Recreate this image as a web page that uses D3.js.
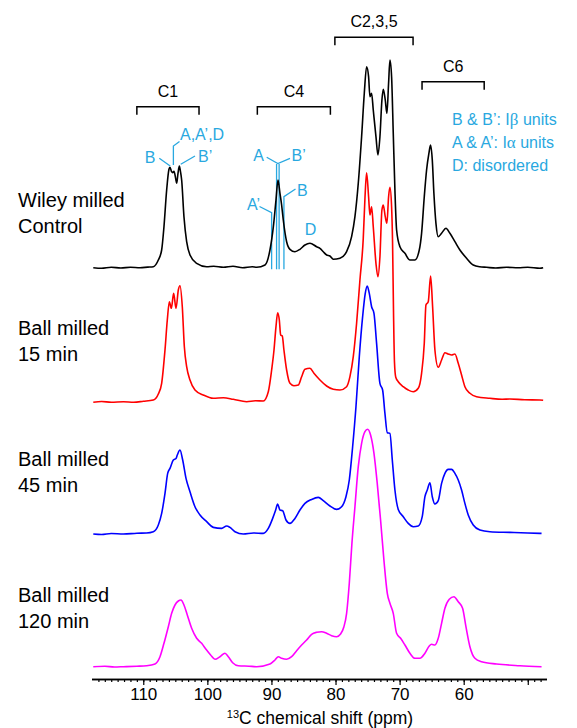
<!DOCTYPE html>
<html><head><meta charset="utf-8">
<script src="https://cdn.jsdelivr.net/npm/d3@7"></script>
<style>body{margin:0;background:#fff}svg{display:block}</style>
</head><body>
<svg id="chart" width="577" height="728"></svg>
<script>
// ---------- DATA (ppm, intensity a.u.) ----------
const wileyControl = [[117.8,0.5],[116.5,0],[115,1],[113.5,0.3],[112,1],[110.5,0.5],[109.3,1.2],[108.43,1.6],[107.65,8.3],[107.13,18.3],[106.77,41.6],[106.35,78.3],[105.99,99],[105.83,101],[105.6,97],[105.41,95.6],[105.21,97],[104.95,90],[104.79,85],[104.58,95],[104.37,102.3],[104.2,97],[104.01,88.3],[103.65,51.6],[103.23,26.6],[102.71,13.3],[101.67,5],[100.11,1.6],[99,2],[97.5,1],[96,2],[94.5,0.5],[93,1.5],[92.3,1],[91.0,3.3],[90.23,18.3],[89.7,41.6],[89.29,68.3],[88.98,88.3],[88.67,75],[88.41,63.3],[88.15,48.3],[87.63,26.6],[87.11,19],[86.33,16.6],[85.55,19],[84.77,23.3],[83.99,25],[82.95,21.6],[82.43,20],[81.91,16.6],[81.39,13.3],[80.87,12.3],[80.35,9],[79.31,10],[78.27,16.6],[77.49,31.6],[76.97,51.6],[76.45,85],[75.93,131.6],[75.51,175],[75.15,201.6],[74.84,191.6],[74.63,171.6],[74.37,175],[74.11,158.3],[73.69,131.6],[73.38,113.3],[73.07,131.6],[72.76,168.3],[72.55,179],[72.24,168.3],[71.98,155],[71.72,185],[71.51,208.3],[71.25,191.6],[70.99,135],[70.73,78],[70.47,38.3],[69.95,21.6],[69.17,15],[68.39,8.3],[67.61,8.3],[66.93,18.3],[66.57,35],[66.15,71.6],[65.79,98.3],[65.43,115],[65.17,123.3],[64.9,108.3],[64.65,75],[64.33,45],[63.97,31.6],[63.45,35],[62.77,40],[62.15,35],[61.37,26.6],[60.59,18.3],[59.55,10],[58.51,3.3],[57.5,1.5],[56.43,1],[55,0.3],[53.31,1],[51.5,0.5],[50,1],[48.11,0],[47.6,0.5]];

const ballMilled15 = [[117.8,0],[116.5,0.8],[115,0],[113.1,0.5],[111.5,0],[110,1],[108.43,2.3],[107.65,8.3],[107.13,19],[106.61,52.3],[106.25,82.3],[105.93,100.6],[105.62,94],[105.26,109],[104.89,94],[104.53,112.3],[104.27,116.6],[103.91,95.6],[103.59,55.6],[103.23,35.6],[102.71,22.3],[101.93,12.3],[100.63,7.3],[99.07,4],[97.5,4.6],[95.95,3],[93.87,0.6],[92.5,1.5],[91.27,1.3],[90.49,10.6],[89.97,32.3],[89.6,52.3],[89.29,75.6],[89.03,89.6],[88.77,82.3],[88.56,67.3],[88.31,66.3],[88.05,52.3],[87.63,32.3],[87.11,19],[86.49,16.6],[85.81,17.3],[85.29,25.6],[84.77,33],[83.99,34],[83.37,29],[82.43,22.3],[81.39,16.3],[80.35,13],[79.31,12.3],[78.27,15.6],[77.75,25.6],[77.23,45.6],[76.71,79],[76.19,122.3],[75.67,164],[75.4,205],[75.15,229.6],[74.84,205.6],[74.63,187.3],[74.37,195.6],[74.11,175.6],[73.69,139],[73.38,125.6],[73.07,145.6],[72.76,192.3],[72.55,197.3],[72.24,185.6],[71.98,179],[71.72,205.6],[71.51,215],[71.25,195.6],[71.1,160],[70.95,90],[70.8,40],[70.6,25],[70.21,20.6],[69.43,15.6],[68.65,12.3],[67.87,10.6],[67.09,14],[66.57,29],[66.15,59],[65.89,97.3],[65.53,100.6],[65.16,126.3],[64.85,95.6],[64.49,52.3],[63.97,35],[63.45,42.3],[62.93,49.6],[62.41,48.3],[61.89,47.3],[61.37,48.3],[60.85,39],[60.33,27.3],[59.81,15.6],[59.03,9],[57.99,5.6],[55.91,4],[54,3],[52.79,3.3],[50.5,2.5],[48.11,2.3],[47.6,2]];

const ballMilled45 = [[117.8,0],[116.5,-0.5],[115,0.5],[113.1,0],[111,0.8],[109.5,1],[108.43,2.3],[107.65,9],[107.13,20.6],[106.61,40.6],[106.19,60.6],[105.83,65.6],[105.31,74],[104.89,75.6],[104.69,79],[104.27,84],[103.85,74],[103.33,55.6],[102.71,42.3],[101.93,27.3],[101.15,19],[100.11,12.3],[99.07,6.6],[97.77,5.6],[96.99,8],[96.47,6.6],[95.69,2.3],[94.39,0],[92.8,1],[91.27,0.6],[90.49,5.6],[89.81,15.6],[89.34,24],[89.03,30],[88.67,24],[88.25,23.3],[87.73,14],[87.11,10.6],[86.33,15.6],[85.55,24],[84.77,30.6],[83.73,34.6],[82.69,36.6],[81.91,33.3],[80.87,28],[79.83,24.6],[79.05,27.3],[78.37,37.3],[77.85,54],[77.33,87.3],[76.81,127.3],[76.29,177.3],[75.77,217.3],[75.36,240.6],[75.05,248],[74.73,240.6],[74.37,227.3],[74.0,220.6],[73.59,190.6],[73.07,150.6],[72.65,144],[72.29,120.6],[71.92,101.3],[71.51,100.6],[71.14,74],[70.73,44],[70.21,24.6],[69.43,17.3],[68.65,10.6],[67.87,7.3],[67.09,8],[66.47,17.3],[66.05,37.3],[65.68,44],[65.27,51.3],[64.9,37.3],[64.49,30],[63.97,33.3],[63.45,50.6],[62.93,60.6],[62.41,64.6],[61.89,64.6],[61.37,60.6],[60.85,54],[60.33,44],[59.81,30.6],[59.29,19],[58.51,9],[57.47,4],[55.91,2.3],[52.79,1.6],[50,1],[47.85,0.6]];

const ballMilled120 = [[117.8,0],[116,0.5],[114.5,-0.3],[113.1,0],[111,0.5],[109.5,1],[108.17,2.7],[107.39,10],[106.77,23.4],[106.09,40],[105.57,53.4],[105.05,61.7],[104.53,65.7],[104.11,66.7],[103.65,61.7],[103.13,51.7],[102.45,38.4],[101.67,28.4],[100.89,23.4],[100.21,17.4],[99.49,11.7],[98.81,7.4],[98.03,10],[97.25,13.4],[96.73,10],[96.05,4],[95.17,1],[93.5,0.5],[92.31,0],[90.23,2.7],[89.45,6.7],[88.93,10],[88.41,8.4],[87.63,7.4],[86.85,10],[86.07,16],[85.29,21.7],[84.51,26.7],[83.73,32.4],[82.95,34.4],[82.17,35],[81.39,33.4],[80.61,31],[79.83,30],[79.21,32.7],[78.69,40],[78.27,53.4],[77.85,83.4],[77.44,123.4],[76.97,160],[76.45,200],[75.93,223.4],[75.41,235],[75.0,237.4],[74.53,231.7],[74.0,213.4],[73.49,183.4],[72.97,146.7],[72.45,106.7],[71.92,73.4],[71.51,63.4],[70.99,53.4],[70.47,33.4],[69.84,28.4],[69.17,21.7],[68.39,13.4],[67.61,8.4],[66.83,8.4],[66.05,13.4],[65.37,20.7],[65.01,22.4],[64.49,21.7],[63.97,28.4],[63.45,43.4],[62.93,58.4],[62.25,67.4],[61.52,70],[60.85,65],[60.17,58.4],[59.65,40],[59.03,20],[58.25,8.4],[57.21,5],[54.87,2.7],[51.23,1],[47.85,0]];

const sampleLabels = [["Wiley milled","Control"],["Ball milled","15 min"],["Ball milled","45 min"],["Ball milled","120 min"]];
const seriesColors = ["#000000","#ff0000","#0000ff","#ff00ff"];
const majorTicks = [110,100,90,80,70,60,50];
const tickLabels = [110,100,90,80,70,60];
const carbonNames = ["C1","C4","C2,3,5","C6"];
const carbonFrom = [111,92.2,80.1,66.5];
const carbonTo = [101.3,80.8,67.9,56.8];
const legendLines = [["B & B\u2019: I","\u03b2"," units"],["A & A\u2019: I","\u03b1"," units"],["D: disordered","",""]];

// ---------- LAYOUT ----------
const svg = d3.select("#chart");
const font = "Arial, 'Liberation Sans', Helvetica, sans-serif";
const annBlue = "#29a8e0";
const x = d3.scaleLinear().domain([118,47]).range([92,547]);
const h = d3.scaleLinear().domain([0,250]).range([0,250]);
const baselines = [268.3,402.3,534,666.7];
const axisY = 679;

const series = [wileyControl, ballMilled15, ballMilled45, ballMilled120];

// annotation lines (drawn under spectra)
const ann = svg.append("g").attr("stroke", annBlue).attr("stroke-width",1.3).attr("fill","none");
// C1
ann.append("path").attr("d", `M159.3,158.3 L${x(105.8)},166`);
ann.append("path").attr("d", `M${x(105.3)},165 L${x(105.3)},146 L179.5,141.5`);
ann.append("path").attr("d", `M${x(104.15)},164.3 L195,156`);
// C4
const vA1 = x(89.97), vA = x(89.2), vB1 = x(88.8), vB = x(88.05);
ann.append("path").attr("d", `M266.7,157.3 L${(vA+vB1)/2},163.5 L290,158.3`);
ann.append("path").attr("d", `M${vA},164 L${vA},269.3`);
ann.append("path").attr("d", `M${vB1},164 L${vB1},269.3`);
ann.append("path").attr("d", `M295.5,189 L${vB},196.7 L${vB},269.3`);
ann.append("path").attr("d", `M259.5,206.5 L${vA1},212.7 L${vA1},269.3`);

// spectra
const line = d3.line().x(d => x(d[0])).curve(d3.curveMonotoneX);
series.forEach((s, i) => {
  svg.append("path")
    .datum(s)
    .attr("d", line.y(d => baselines[i] - h(d[1])))
    .attr("fill","none")
    .attr("stroke", seriesColors[i])
    .attr("stroke-width", 1.6)
    .attr("stroke-linejoin","round");
});

// annotation text
const at = svg.append("g").attr("fill", annBlue).attr("font-family", font).attr("font-size", 16);
at.append("text").attr("x",155.5).attr("y",163).attr("text-anchor","end").text("B");
at.append("text").attr("x",180).attr("y",139.5).text("A,A\u2019,D");
at.append("text").attr("x",198).attr("y",162).text("B\u2019");
at.append("text").attr("x",258.5).attr("y",161).attr("text-anchor","middle").text("A");
at.append("text").attr("x",291.5).attr("y",161).text("B\u2019");
at.append("text").attr("x",297).attr("y",195.5).text("B");
at.append("text").attr("x",260).attr("y",209.5).attr("text-anchor","end").text("A\u2019");
at.append("text").attr("x",310.5).attr("y",235).attr("text-anchor","middle").text("D");

// legend
legendLines.forEach((l, i) => {
  const t = svg.append("text").attr("x",452).attr("y",125 + i*23)
    .attr("fill", annBlue).attr("font-family", font).attr("font-size",16);
  t.append("tspan").text(l[0]);
  if (l[1]) t.append("tspan").attr("font-family","'Liberation Serif','Times New Roman',serif").attr("font-size",17).text(l[1]);
  if (l[2]) t.append("tspan").text(l[2]);
});

// carbon brackets
const bracketTop = [106.7,106.7,37.3,81.7];
carbonNames.forEach((n, i) => {
  const x0 = x(carbonFrom[i]), x1 = x(carbonTo[i]), yt = bracketTop[i];
  svg.append("path").attr("d", `M${x0},${yt+8} L${x0},${yt} L${x1},${yt} L${x1},${yt+8}`)
    .attr("fill","none").attr("stroke","#000").attr("stroke-width",1.5);
  svg.append("text").attr("x",(x0+x1)/2).attr("y",yt-10).attr("text-anchor","middle")
    .attr("font-family",font).attr("font-size",16).attr("fill","#000").text(n);
});

// sample labels
const labelY = [207,335,466,602];
sampleLabels.forEach((l, i) => {
  l.forEach((s, j) => {
    svg.append("text").attr("x",18).attr("y",labelY[i] + j*26)
      .attr("font-family",font).attr("font-size",20).attr("fill","#000").text(s);
  });
});

// axis
const gMinor = svg.append("g").attr("transform",`translate(0,${axisY})`)
  .call(d3.axisBottom(x).tickValues(d3.range(48,118)).tickSize(3).tickFormat(""));
const gMajor = svg.append("g").attr("transform",`translate(0,${axisY})`)
  .call(d3.axisBottom(x).tickValues(majorTicks).tickSize(6).tickPadding(3)
    .tickFormat(d => tickLabels.includes(d) ? d : ""));
[gMinor, gMajor].forEach(g => {
  g.select(".domain").attr("stroke","#000").attr("stroke-width",1.5).attr("d",`M${x(118)},0.5H${x(47)}`);
  g.selectAll(".tick line").attr("stroke","#000").attr("stroke-width",1.2);
});
gMajor.selectAll(".tick text").attr("font-family",font).attr("font-size",17).attr("fill","#000");

const title = svg.append("text").attr("x",320).attr("y",724).attr("text-anchor","middle")
  .attr("font-family",font).attr("font-size",17.5).attr("fill","#000");
title.append("tspan").attr("font-size",11).attr("dy",-6).text("13");
title.append("tspan").attr("dy",6).text("C chemical shift (ppm)");
</script>
</body></html>
